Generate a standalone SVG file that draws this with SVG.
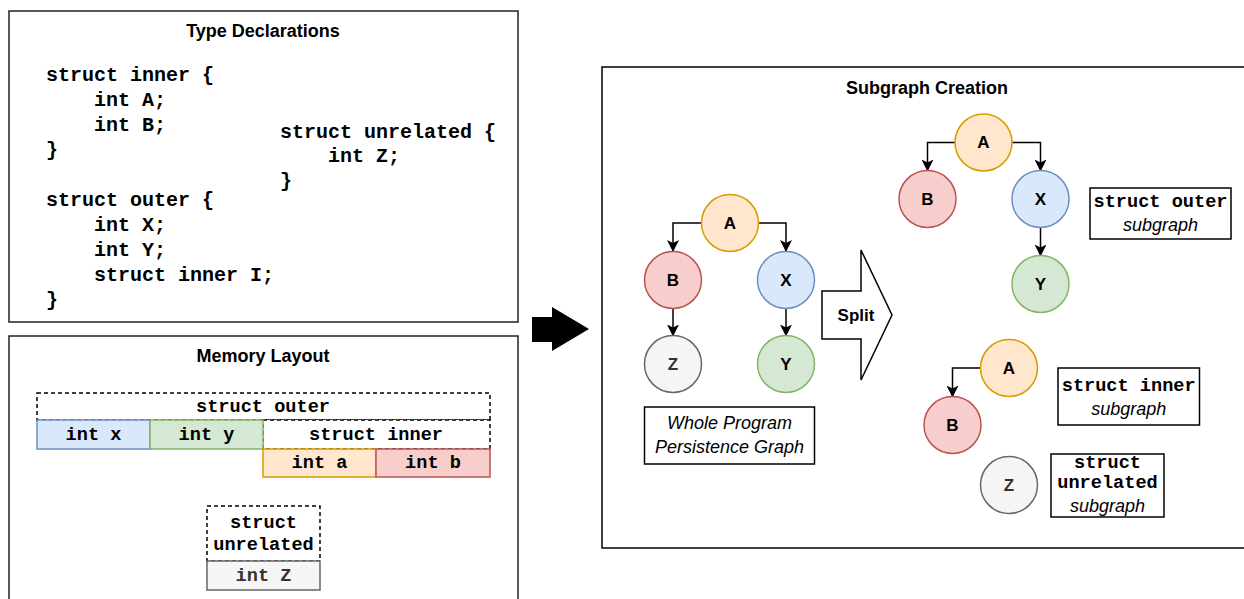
<svg xmlns="http://www.w3.org/2000/svg" width="1244" height="599" viewBox="0 0 1244 599">
<style>
.panel{fill:#fff;stroke:#222;stroke-width:1.5}
.title{font-family:"Liberation Sans",Arial,sans-serif;font-weight:bold;font-size:18px;text-anchor:middle;dominant-baseline:central;fill:#000}
.code{font-family:"Liberation Mono","Courier New",monospace;font-weight:bold;font-size:20px;fill:#000}
.mono{font-family:"Liberation Mono","Courier New",monospace;font-weight:bold;font-size:18.6px;text-anchor:middle;dominant-baseline:central;fill:#000}
.ital{font-family:"Liberation Sans",Arial,sans-serif;font-style:italic;font-size:18px;text-anchor:middle;dominant-baseline:central;fill:#000}
.dash{fill:#fff;stroke:#000;stroke-width:1.5;stroke-dasharray:4 3}
.lbl{fill:#fff;stroke:#000;stroke-width:1.5}
.node{font-family:"Liberation Sans",Arial,sans-serif;font-weight:bold;font-size:17px;text-anchor:middle;dominant-baseline:central;fill:#000}
.or{fill:#ffe6cc;stroke:#d79b00;stroke-width:1.5}
.rd{fill:#f8cecc;stroke:#b85450;stroke-width:1.5}
.bl{fill:#dae8fc;stroke:#6c8ebf;stroke-width:1.5}
.gr{fill:#d5e8d4;stroke:#82b366;stroke-width:1.5}
.gy{fill:#f5f5f5;stroke:#666666;stroke-width:1.5}
.edge{fill:none;stroke:#000;stroke-width:1.5;marker-end:url(#arr)}
</style>
<defs>
<marker id="arr" viewBox="0 0 12 12" refX="11" refY="6" markerWidth="12" markerHeight="12" markerUnits="userSpaceOnUse" orient="auto">
<path d="M0,0 L12,6 L0,12 L3,6 Z" fill="#000"/>
</marker>
</defs>
<rect width="1244" height="599" fill="#fff"/>

<g id="type-declarations">
<rect class="panel" x="9" y="11" width="509" height="311"/>
<text class="title" x="263" y="31">Type Declarations</text>
<text class="code" x="46" y="81">struct inner {</text>
<text class="code" x="94" y="106">int A;</text>
<text class="code" x="94" y="131">int B;</text>
<text class="code" x="46" y="156">}</text>
<text class="code" x="46" y="206">struct outer {</text>
<text class="code" x="94" y="231">int X;</text>
<text class="code" x="94" y="256">int Y;</text>
<text class="code" x="94" y="281">struct inner I;</text>
<text class="code" x="46" y="306">}</text>
<text class="code" x="280" y="138">struct unrelated {</text>
<text class="code" x="328" y="162">int Z;</text>
<text class="code" x="280" y="187">}</text>
</g>

<g id="memory-layout">
<rect class="panel" x="9" y="336" width="509" height="280"/>
<text class="title" x="263" y="356">Memory Layout</text>
<rect class="dash" x="37" y="393" width="453" height="27"/>
<text class="mono" x="263" y="407">struct outer</text>
<rect class="dash" x="263" y="420" width="227" height="29"/>
<text class="mono" x="376" y="435">struct inner</text>
<rect class="bl" x="37" y="420" width="113" height="29"/>
<text class="mono" x="93.5" y="435">int x</text>
<rect class="gr" x="150" y="420" width="113" height="29"/>
<text class="mono" x="206.5" y="435">int y</text>
<rect class="or" x="263" y="449" width="113" height="28"/>
<text class="mono" x="319.5" y="463">int a</text>
<rect class="rd" x="376" y="449" width="114" height="28"/>
<text class="mono" x="433" y="463">int b</text>
<rect class="dash" x="207" y="506" width="113" height="55"/>
<text class="mono" x="263.5" y="523">struct</text>
<text class="mono" x="263.5" y="545">unrelated</text>
<rect class="gy" x="207" y="561" width="113" height="29"/>
<text class="mono" x="263.5" y="576" style="fill:#333">int Z</text>
</g>

<g id="big-arrow">
<polygon points="532,317 552,317 552,307 589,329 552,351 552,342 532,342" fill="#000"/>
</g>

<g id="subgraph-creation">
<rect class="panel" x="602" y="67" width="660" height="481" style="stroke:#000"/>
<text class="title" x="927" y="88">Subgraph Creation</text>
</g>

<g id="split">
<polygon class="lbl" points="822,291 861,291 861,250 892,315 861,380 861,339 822,339"/>
<text class="node" x="856" y="315">Split</text>
</g>

<g id="connectors">
<path class="edge" d="M701.5,223 H673 V251"/>
<path class="edge" d="M758.5,223 H786 V251"/>
<path class="edge" d="M673,308.5 V335.5"/>
<path class="edge" d="M786,308.5 V335.5"/>
<path class="edge" d="M955,142.5 H927.5 V170.5"/>
<path class="edge" d="M1012,142.5 H1040.5 V170.5"/>
<path class="edge" d="M1040.5,227.5 V255.5"/>
<path class="edge" d="M980.5,368 H952.5 V396.5"/>
</g>

<g id="whole-A"><circle class="or" cx="730" cy="223" r="28.5"/><text class="node" x="730" y="223">A</text></g>
<g id="whole-B"><circle class="rd" cx="673" cy="280" r="28.5"/><text class="node" x="673" y="280">B</text></g>
<g id="whole-X"><circle class="bl" cx="786" cy="280" r="28.5"/><text class="node" x="786" y="280">X</text></g>
<g id="whole-Z"><circle class="gy" cx="673" cy="364" r="28.5"/><text class="node" x="673" y="364" style="fill:#333">Z</text></g>
<g id="whole-Y"><circle class="gr" cx="786" cy="364" r="28.5"/><text class="node" x="786" y="364">Y</text></g>
<g id="whole-label">
<rect class="lbl" x="644.5" y="407" width="170" height="57"/>
<text class="ital" x="729.5" y="423">Whole Program</text>
<text class="ital" x="729.5" y="447">Persistence Graph</text>
</g>

<g id="outer-A"><circle class="or" cx="983.5" cy="142.5" r="28.5"/><text class="node" x="983.5" y="142.5">A</text></g>
<g id="outer-B"><circle class="rd" cx="927.5" cy="199" r="28.5"/><text class="node" x="927.5" y="199">B</text></g>
<g id="outer-X"><circle class="bl" cx="1040.5" cy="199" r="28.5"/><text class="node" x="1040.5" y="199">X</text></g>
<g id="outer-Y"><circle class="gr" cx="1040.5" cy="284" r="28.5"/><text class="node" x="1040.5" y="284">Y</text></g>
<g id="outer-label">
<rect class="lbl" x="1090" y="188" width="141" height="51"/>
<text class="mono" x="1160.5" y="202">struct outer</text>
<text class="ital" x="1160.5" y="225">subgraph</text>
</g>

<g id="inner-A"><circle class="or" cx="1009" cy="368" r="28.5"/><text class="node" x="1009" y="368">A</text></g>
<g id="inner-B"><circle class="rd" cx="952.5" cy="425" r="28.5"/><text class="node" x="952.5" y="425">B</text></g>
<g id="inner-label">
<rect class="lbl" x="1058" y="368" width="141.5" height="57"/>
<text class="mono" x="1128.7" y="386">struct inner</text>
<text class="ital" x="1128.7" y="409">subgraph</text>
</g>

<g id="unrelated-Z"><circle class="gy" cx="1009" cy="485" r="28.5"/><text class="node" x="1009" y="485" style="fill:#333">Z</text></g>
<g id="unrelated-label">
<rect class="lbl" x="1051" y="454" width="113" height="63"/>
<text class="mono" x="1107.5" y="463">struct</text>
<text class="mono" x="1107.5" y="483">unrelated</text>
<text class="ital" x="1107.5" y="506">subgraph</text>
</g>
</svg>
